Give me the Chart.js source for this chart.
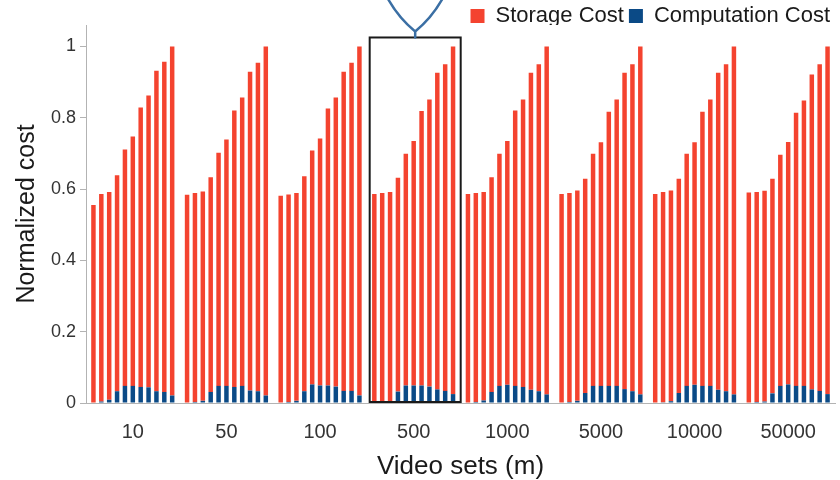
<!DOCTYPE html>
<html>
<head>
<meta charset="utf-8">
<script src="https://cdn.jsdelivr.net/npm/chart.js@4.4.1/dist/chart.umd.min.js"></script>
<style>
  html, body { margin: 0; padding: 0; background: #ffffff; }
  #wrap { width: 840px; height: 480px; position: relative; }
</style>
</head>
<body>
<div id="wrap"><canvas id="c" width="840" height="480"></canvas></div>
<script>
// ---- data ----
const categories = ['10', '50', '100', '500', '1000', '5000', '10000', '50000'];

// one row per video-set size, 11 bars per group (bottom part: computation cost)
const computationCost = [
  [0, 0.004, 0.009, 0.033, 0.048, 0.048, 0.045, 0.044, 0.033, 0.031, 0.021],
  [0, 0.003, 0.006, 0.031, 0.048, 0.048, 0.045, 0.048, 0.035, 0.033, 0.021],
  [0, 0.003, 0.006, 0.033, 0.052, 0.049, 0.049, 0.046, 0.034, 0.034, 0.021],
  [0, 0.001, 0.002, 0.032, 0.049, 0.049, 0.049, 0.046, 0.038, 0.034, 0.025],
  [0, 0.003, 0.007, 0.031, 0.048, 0.051, 0.048, 0.045, 0.037, 0.033, 0.024],
  [0, 0.003, 0.006, 0.028, 0.048, 0.048, 0.048, 0.048, 0.039, 0.033, 0.024],
  [0, 0.002, 0.005, 0.028, 0.048, 0.051, 0.048, 0.048, 0.037, 0.033, 0.024],
  [0, 0.003, 0.004, 0.027, 0.048, 0.052, 0.048, 0.048, 0.038, 0.034, 0.025]
];

// top part: storage cost
const storageCost = [
  [0.555, 0.582, 0.583, 0.606, 0.663, 0.699, 0.784, 0.818, 0.899, 0.926, 0.979],
  [0.584, 0.586, 0.587, 0.602, 0.654, 0.691, 0.775, 0.809, 0.894, 0.921, 0.979],
  [0.581, 0.582, 0.583, 0.603, 0.656, 0.693, 0.777, 0.811, 0.895, 0.920, 0.979],
  [0.586, 0.588, 0.590, 0.600, 0.650, 0.686, 0.770, 0.805, 0.888, 0.916, 0.975],
  [0.586, 0.586, 0.585, 0.602, 0.651, 0.684, 0.772, 0.806, 0.889, 0.917, 0.976],
  [0.586, 0.586, 0.590, 0.601, 0.651, 0.683, 0.769, 0.803, 0.887, 0.917, 0.976],
  [0.586, 0.590, 0.591, 0.601, 0.651, 0.680, 0.769, 0.803, 0.889, 0.917, 0.976],
  [0.590, 0.589, 0.591, 0.602, 0.648, 0.680, 0.766, 0.800, 0.883, 0.916, 0.975]
];

const yTicks = [0, 0.2, 0.4, 0.6, 0.8, 1];
const highlightedCategory = '500';

const seriesNames = ['Storage Cost', 'Computation Cost'];
const STORAGE_COLOR = '#f4432f';
const COMPUTE_COLOR = '#0b4a86';
const FONT = '"Liberation Sans", Arial, sans-serif';

// ---- build datasets: one stack per bar position ----
const barsPerGroup = storageCost[0].length;
const datasets = [];
for (let j = 0; j < barsPerGroup; j++) {
  datasets.push({
    label: seriesNames[1],
    stack: 's' + j,
    data: computationCost.map(row => row[j]),
    backgroundColor: COMPUTE_COLOR,
    borderWidth: 0,
    categoryPercentage: 0.925,
    barPercentage: 0.57
  });
  datasets.push({
    label: seriesNames[0],
    stack: 's' + j,
    data: storageCost.map(row => row[j]),
    backgroundColor: STORAGE_COLOR,
    borderWidth: 0,
    categoryPercentage: 0.925,
    barPercentage: 0.57
  });
}

// legend height override so the plot starts right below it
const legendFit = {
  id: 'legendFit',
  afterInit(chart) {
    const lg = chart.legend;
    if (!lg) return;
    const orig = lg.fit.bind(lg);
    lg.fit = function () { orig(); this.height = 25; };
  }
};

// highlight box + brace around one group
const highlight = {
  id: 'highlight',
  afterDatasetsDraw(chart) {
    const x = chart.scales.x, y = chart.scales.y;
    const idx = categories.indexOf(highlightedCategory);
    if (idx < 0) return;
    const cx = x.getPixelForValue(idx) + 1.5;
    const half = (x.width / categories.length) * 0.972 / 2;
    const top = y.getPixelForValue(1.025);
    const bottom = y.getPixelForValue(0) - 1;
    const ctx = chart.ctx;
    ctx.save();
    ctx.strokeStyle = '#1a1a1a';
    ctx.lineWidth = 2;
    ctx.strokeRect(cx - half, top, half * 2, bottom - top);
    // brace (lower tip of a curly bracket)
    ctx.strokeStyle = '#3b6fa4';
    ctx.lineWidth = 2.5;
    ctx.lineCap = 'round';
    const tipY = top - 6;
    ctx.beginPath();
    ctx.moveTo(cx, top);
    ctx.lineTo(cx, tipY);
    ctx.moveTo(cx - 28, tipY - 34);
    ctx.quadraticCurveTo(cx - 17, tipY - 14, cx, tipY);
    ctx.quadraticCurveTo(cx + 17, tipY - 14, cx + 28, tipY - 34);
    ctx.stroke();
    ctx.restore();
  }
};

new Chart(document.getElementById('c'), {
  type: 'bar',
  data: { labels: categories, datasets },
  plugins: [legendFit, highlight],
  options: {
    responsive: false,
    animation: false,
    events: [],
    layout: { padding: { left: 0, right: 5, top: 0, bottom: 0 } },
    plugins: {
      tooltip: { enabled: false },
      legend: {
        position: 'top',
        align: 'end',
        labels: {
          font: { family: FONT, size: 22 },
          color: '#1a1a1a',
          boxWidth: 14,
          boxHeight: 14,
          padding: 5,
          generateLabels: () => [
            { text: seriesNames[0], fillStyle: STORAGE_COLOR, strokeStyle: STORAGE_COLOR, lineWidth: 0, hidden: false, datasetIndex: 1, fontColor: '#1a1a1a' },
            { text: seriesNames[1], fillStyle: COMPUTE_COLOR, strokeStyle: COMPUTE_COLOR, lineWidth: 0, hidden: false, datasetIndex: 0, fontColor: '#1a1a1a' }
          ]
        }
      }
    },
    scales: {
      x: {
        stacked: true,
        grid: { display: false, drawTicks: false },
        border: { display: true, color: '#b3b3b3', width: 1 },
        ticks: { font: { family: FONT, size: 20 }, color: '#333333', padding: 17, maxRotation: 0, autoSkip: false },
        title: { display: true, text: 'Video sets (m)', font: { family: FONT, size: 26 }, color: '#1a1a1a', padding: { top: 0, bottom: -2 } },
        afterFit: s => { s.height = 77; }
      },
      y: {
        stacked: true,
        min: 0,
        max: 1.06,
        grid: { display: true, drawOnChartArea: false, drawTicks: true, tickLength: 6, color: '#b3b3b3' },
        border: { display: true, color: '#b3b3b3', width: 1 },
        ticks: { font: { family: FONT, size: 18 }, color: '#333333', padding: 4, callback: v => String(v) },
        afterBuildTicks: axis => { axis.ticks = yTicks.map(v => ({ value: v })); },
        title: { display: true, text: 'Normalized cost', font: { family: FONT, size: 25 }, color: '#1a1a1a', padding: { top: 12, bottom: 0 } },
        afterFit: s => { s.width = 86; }
      }
    }
  }
});
</script>
</body>
</html>
